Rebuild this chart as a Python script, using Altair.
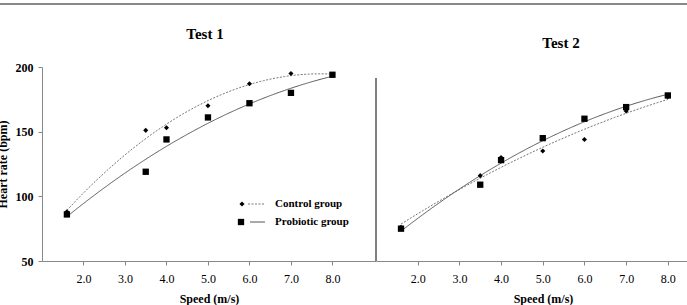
import altair as alt
import pandas as pd

speed = [1.6, 3.5, 4.0, 5.0, 6.0, 7.0, 8.0]
groups = ["Control group", "Probiotic group"]
t1_control = [88, 151, 153, 170, 187, 195, 194]
t1_probiotic = [86, 119, 144, 161, 172, 180, 194]
t2_control = [76, 116, 130, 135, 144, 166, 177]
t2_probiotic = [75, 109, 128, 145, 160, 169, 178]
x_ticks = [2, 3, 4, 5, 6, 7, 8]
y_ticks = [50, 100, 150, 200]
panel_titles = ["Test 1", "Test 2"]

SERIF = "Liberation Serif"


def long(control, probiotic):
    return pd.DataFrame({
        "speed": speed * 2,
        "hr": control + probiotic,
        "group": [groups[0]] * len(speed) + [groups[1]] * len(speed),
    })


def panel(df, xdom, width, title, tx, ty, left, line_colors):
    xaxis = alt.Axis(values=x_ticks, format=".1f", title="Speed (m/s)", titleX=167,
                     titleY=41, titleBaseline="alphabetic", titleFontWeight="bold",
                     titleFontSize=12, labelFontSize=12, tickSize=4, labelPadding=8,
                     grid=False)
    xs = alt.X("speed:Q", scale=alt.Scale(domain=xdom, nice=False, zero=False), axis=xaxis)
    if left:
        yaxis = alt.Axis(values=y_ticks, title="Heart rate (bpm)", titleX=-36, titleY=97,
                         titleAngle=270, titleBaseline="alphabetic", titleAlign="center",
                         titleFontWeight="bold", titleFontSize=12, labelFontWeight="bold",
                         labelFontSize=12, tickSize=4, labelPadding=5, grid=False)
        ys = alt.Y("hr:Q", scale=alt.Scale(domain=[50, 200], nice=False, zero=False), axis=yaxis)
    else:
        ys = alt.Y("hr:Q", scale=alt.Scale(domain=[50, 200], nice=False, zero=False), axis=None)

    base = alt.Chart(df)
    lines = base.transform_regression(
        "speed", "hr", groupby=["group"], method="poly", order=2, extent=[1.6, 8.0]
    ).mark_line(strokeWidth=1).encode(
        x=xs, y=ys,
        strokeDash=alt.StrokeDash("group:N", scale=alt.Scale(domain=groups, range=[[2, 1.5], [1, 0]]), legend=None),
        color=alt.Color("group:N", scale=alt.Scale(domain=groups, range=line_colors), legend=None),
    )
    ctrl = base.transform_filter(alt.datum.group == groups[0]).mark_point(
        shape="diamond", filled=True, size=26, color="black", opacity=1).encode(x=xs, y=ys)
    prob = base.transform_filter(alt.datum.group == groups[1]).mark_point(
        shape="square", filled=True, size=40, color="black", opacity=1).encode(x=xs, y=ys)
    ttl = alt.Chart(pd.DataFrame({"t": [title]})).mark_text(
        font=SERIF, fontSize=15, fontWeight="bold", align="center", baseline="middle", color="black"
    ).encode(x=alt.value(tx), y=alt.value(ty), text="t:N")
    layers = [lines, ctrl, prob, ttl]
    if left:
        top_rule = alt.Chart(pd.DataFrame({"a": [0]})).mark_rule(color="#888", strokeWidth=2).encode(
            x=alt.value(-42), x2=alt.value(645), y=alt.value(-63))
        leg_d = alt.Chart(pd.DataFrame({"g": [groups[0]]})).mark_point(
            shape="diamond", filled=True, size=26, color="black", opacity=1
        ).encode(x=alt.value(200), y=alt.value(137))
        leg_s = alt.Chart(pd.DataFrame({"g": [groups[1]]})).mark_point(
            shape="square", filled=True, size=40, color="black", opacity=1
        ).encode(x=alt.value(199), y=alt.value(155))
        leg_l1 = alt.Chart(pd.DataFrame({"g": [groups[0]]})).mark_rule(
            color=line_colors[0], strokeWidth=1, strokeDash=[2, 1.5]
        ).encode(x=alt.value(206), x2=alt.value(222), y=alt.value(137))
        leg_l2 = alt.Chart(pd.DataFrame({"g": [groups[1]]})).mark_rule(
            color=line_colors[1], strokeWidth=1
        ).encode(x=alt.value(208), x2=alt.value(223), y=alt.value(155))
        leg_t1 = alt.Chart(pd.DataFrame({"g": [groups[0]]})).mark_text(
            font=SERIF, fontSize=11, fontWeight="bold", align="left", baseline="middle", color="black"
        ).encode(x=alt.value(233), y=alt.value(137), text="g:N")
        leg_t2 = alt.Chart(pd.DataFrame({"g": [groups[1]]})).mark_text(
            font=SERIF, fontSize=11, fontWeight="bold", align="left", baseline="middle", color="black"
        ).encode(x=alt.value(233), y=alt.value(155), text="g:N")
        layers += [top_rule, leg_l1, leg_l2, leg_d, leg_s, leg_t1, leg_t2]
    else:
        yline = alt.Chart(pd.DataFrame({"a": [0]})).mark_rule(color="black", strokeWidth=1).encode(
            x=alt.value(0), y=alt.value(11), y2=alt.value(194))
        layers += [yline]
    return alt.layer(*layers).properties(width=width, height=194)


left = panel(long(t1_control, t1_probiotic), [1, 9.05], 334, panel_titles[0], 163, -33, True,
             ["#777777", "#555555"])
right = panel(long(t2_control, t2_probiotic), [1, 8.46], 311, panel_titles[1], 185, -24, False,
              ["#555555", "#333333"])

chart = alt.hconcat(left, right, spacing=0, bounds="flush").properties(
    autosize=alt.AutoSizeParams(type="none"),
    padding={"left": 42, "top": 67, "right": 645, "bottom": 238},
    background="white",
).configure_view(strokeWidth=0).configure_axis(
    labelFont=SERIF, titleFont=SERIF, domainColor="#888888", tickColor="#888888",
    labelColor="black", titleColor="black",
)

chart.save("out.html", embed_options={"renderer": "svg", "actions": False})
